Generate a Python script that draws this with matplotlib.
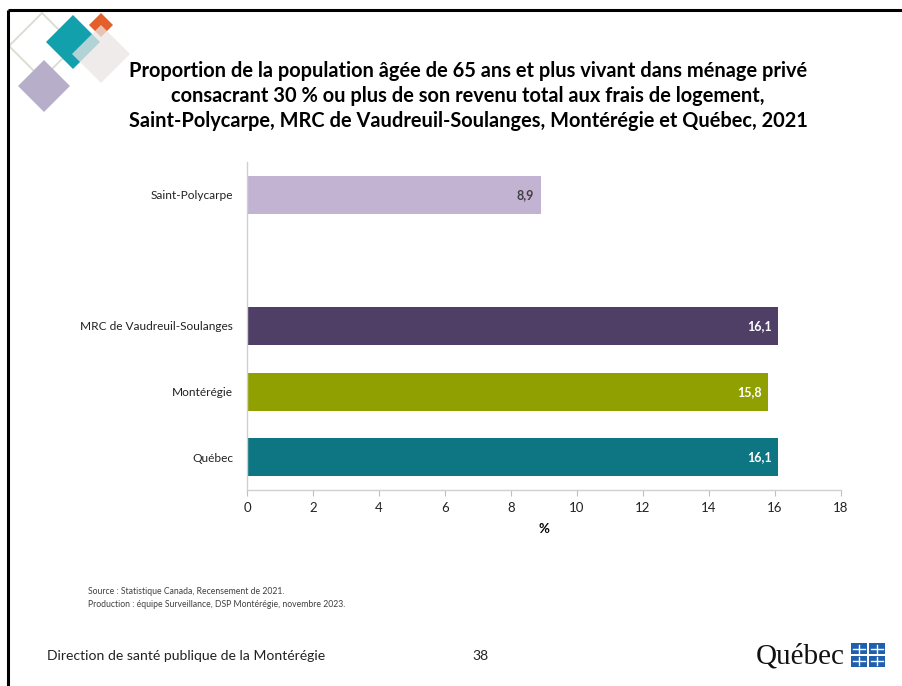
import matplotlib
matplotlib.use("Agg")
import matplotlib.pyplot as plt
from matplotlib.patches import Polygon, Rectangle

plt.rcParams["font.family"] = ["Lato", "DejaVu Sans"]

# Proportion (%) of people aged 65+ spending 30 % or more of income on housing
REGIONS = ["Québec", "Montérégie", "MRC de Vaudreuil-Soulanges", "Saint-Polycarpe"]
VALUES = [16.1, 15.8, 16.1, 8.9]
POSITIONS = [0, 1, 2, 4]
BAR_COLORS = ["#0e7582", "#8fa000", "#4f3f66", "#c3b3d3"]
LABEL_COLORS = ["white", "white", "white", "#404040"]
XTICKS = list(range(0, 19, 2))

TITLE = ("Proportion de la population âgée de 65 ans et plus vivant dans ménage privé\n"
         "consacrant 30 % ou plus de son revenu total aux frais de logement,\n"
         "Saint-Polycarpe, MRC de Vaudreuil-Soulanges, Montérégie et Québec, 2021")
SOURCE = ("Source : Statistique Canada, Recensement de 2021.\n"
          "Production : équipe Surveillance, DSP Montérégie, novembre 2023.")

W, H = 902, 686
fig = plt.figure(figsize=(W / 100, H / 100), dpi=100)
fig.patch.set_facecolor("white")

# slide decoration layer in pixel coordinates
deco = fig.add_axes([0, 0, 1, 1])
deco.set_xlim(0, W)
deco.set_ylim(H, 0)
deco.axis("off")


def diamond(cx, cy, r, **kw):
    pts = [(cx, cy - r), (cx + r, cy), (cx, cy + r), (cx - r, cy)]
    deco.add_patch(Polygon(pts, closed=True, **kw))


diamond(42, 46, 33, facecolor="none", edgecolor="#d8ddd0", lw=1.3)
diamond(44, 86, 26, facecolor="#b7afca", edgecolor="none")
diamond(73, 42, 27, facecolor="#13a0ad", edgecolor="none")
diamond(101, 25, 12, facecolor="#e3602a", edgecolor="none")
diamond(101, 54, 29, facecolor="#e9e5e3", edgecolor="none", alpha=0.75)

# slide frame (top and left edges)
deco.plot([8, W], [10, 10], color="black", lw=2.2, solid_capstyle="butt")
deco.plot([8, 8], [10, H], color="black", lw=2.2, solid_capstyle="butt")

deco.text(468, 96, TITLE, ha="center", va="center", fontsize=14.4,
          fontweight="bold", color="black", linespacing=1.3)
deco.text(88, 598, SOURCE, ha="left", va="center", fontsize=6.2,
          color="#404040", linespacing=1.5)
deco.text(47, 656, "Direction de santé publique de la Montérégie", ha="left",
          va="center", fontsize=10.1, color="#222222")
deco.text(480, 656, "38", ha="center", va="center", fontsize=10.1, color="#222222")

# Québec wordmark
deco.text(756, 657, "Québec", ha="left", va="center", fontsize=21,
          family=["Liberation Serif", "DejaVu Serif"], color="#111111")
for dx, dy in [(0, 0), (18, 0), (0, 12.5), (18, 12.5)]:
    deco.add_patch(Rectangle((851 + dx, 643 + dy), 16, 11,
                             facecolor="#1f5fb0", edgecolor="none"))
    deco.plot([859 + dx, 859 + dx], [644.5 + dy, 652.5 + dy], color="white", lw=1)
    deco.plot([853 + dx, 865 + dx], [648.5 + dy, 648.5 + dy], color="white", lw=1)

# bar chart
ax = fig.add_axes([247 / W, 1 - 490 / H, 594 / W, 328 / H])
ax.barh(POSITIONS, VALUES, height=0.58, color=BAR_COLORS)
for pos, val, tc in zip(POSITIONS, VALUES, LABEL_COLORS):
    ax.text(val - 0.2, pos, f"{val:.1f}".replace(".", ","), ha="right",
            va="center", fontsize=9, fontweight="bold", color=tc)

ax.set_xlim(0, 18)
ax.set_ylim(-0.5, 4.5)
ax.set_xticks(XTICKS)
ax.set_yticks(POSITIONS)
ax.set_yticklabels(REGIONS)
ax.tick_params(axis="x", direction="out", length=4, color="#bfbfbf",
               labelsize=9.5, labelcolor="#222222", pad=5)
ax.tick_params(axis="y", length=0, labelsize=8.6, labelcolor="#222222", pad=10)
ax.set_xlabel("%", fontsize=9.5, fontweight="bold", labelpad=6)
for side in ["top", "right"]:
    ax.spines[side].set_visible(False)
for side in ["left", "bottom"]:
    ax.spines[side].set_color("#d0d0d0")
    ax.spines[side].set_linewidth(1)
ax.set_facecolor("white")

fig.savefig("out.png", dpi=100, facecolor="white")
